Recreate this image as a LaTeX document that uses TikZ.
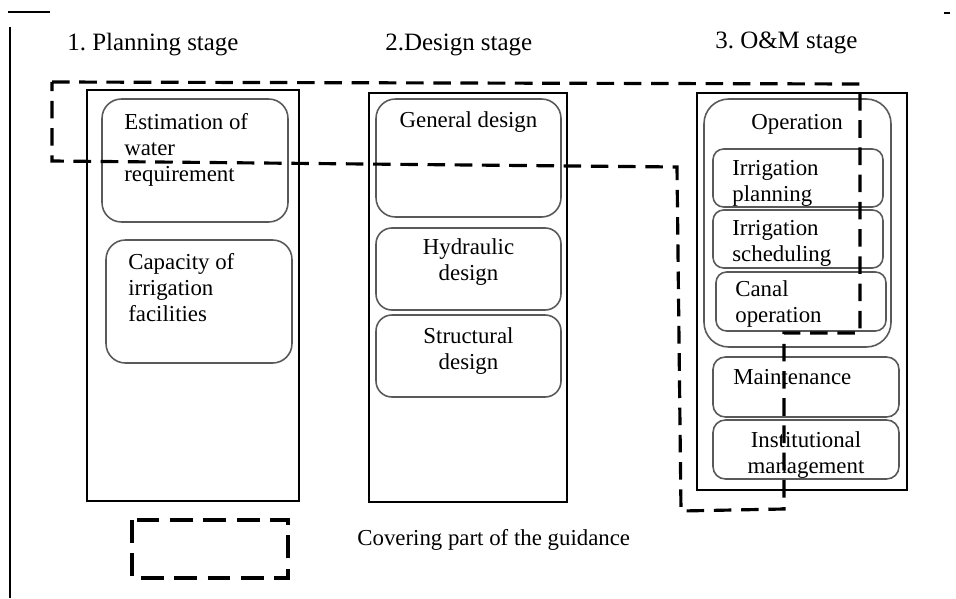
\documentclass[tikz,border=0pt]{standalone}
\usepackage{fontspec}
\setmainfont{Liberation Serif}
\usepackage{tikz}
\usetikzlibrary{positioning}
\tikzset{dd/.style={line width=1.8pt, dash pattern=on 10pt off 5.5pt}}
\frenchspacing

\begin{document}
\begin{tikzpicture}[
x=0.02cm, y=-0.02cm,
stage/.style={rectangle, draw=black, line width=0.7pt, inner sep=0pt},
task/.style={rectangle, rounded corners=7pt, draw=black!65, line width=0.9pt, inner sep=0pt},
lbl/.style={inner sep=0pt, font=\fontsize{13}{14.8}\selectfont},
title/.style={inner sep=0pt, font=\fontsize{14.2}{16}\selectfont, anchor=base west},
]
\useasboundingbox (0,0) rectangle (956,598);
% frame marks
\draw[line width=0.9pt] (8,12) -- (50,12);
\draw[line width=0.9pt] (10,27) -- (10,598);
\draw[line width=0.9pt] (944,13) -- (950,13);
% stage titles
\node[title] (t1) at (67,51) {1. Planning stage};
\node[title] (t2) at (385,51) {2.Design stage};
\node[title] (t3) at (715,49) {3. O\&M stage};
% stage boxes
\node[stage, minimum width=4.24cm, minimum height=8.22cm] (plan) at (193,295.5) {};
\node[stage, minimum width=3.96cm, minimum height=8.18cm] (design) at (468,297.5) {};
\node[stage, minimum width=4.2cm, minimum height=7.94cm] (om) at (802,291.5) {};
% planning
\node[task, rounded corners=11pt, minimum width=3.72cm, minimum height=2.46cm] (est) at (195,160.5) {};
\node[task, rounded corners=11pt, minimum width=3.72cm, minimum height=2.46cm] (cap) at (199,301.5) {};
\node[lbl, anchor=north west, align=left] (estL) at (124,113) {Estimation of\\water\\requirement};
\node[lbl, anchor=north west, align=left] (capL) at (128,253) {Capacity of\\irrigation\\facilities};
% design
\node[task, rounded corners=11pt, minimum width=3.7cm, minimum height=2.36cm] (gen) at (468.5,158) {};
\node[task, rounded corners=9pt, minimum width=3.7cm, minimum height=1.64cm] (hyd) at (468.5,269) {};
\node[task, rounded corners=9pt, minimum width=3.7cm, minimum height=1.64cm] (str) at (468.5,356) {};
\node[lbl, anchor=base] (genL) at (468.5,128) {General design};
\node[lbl, anchor=north, align=center] (hydL) at (468.5,238) {Hydraulic\\design};
\node[lbl, anchor=north, align=center] (strL) at (468.5,327) {Structural\\design};
% O&M
\node[task, rounded corners=14pt, minimum width=3.74cm, minimum height=4.96cm] (opgrp) at (797.5,223) {};
\node[task, rounded corners=6pt, minimum width=3.4cm, minimum height=1.16cm] (irplan) at (798,178) {};
\node[task, rounded corners=6pt, minimum width=3.4cm, minimum height=1.16cm] (irsched) at (798,239) {};
\node[task, rounded corners=6pt, minimum width=3.4cm, minimum height=1.18cm] (canal) at (801,301.5) {};
\node[task, rounded corners=7pt, minimum width=3.72cm, minimum height=1.2cm] (maint) at (806,387) {};
\node[task, rounded corners=7pt, minimum width=3.72cm, minimum height=1.18cm] (inst) at (806,449.5) {};
\node[lbl, anchor=base] (opL) at (797,130) {Operation};
\node[lbl, anchor=north west, align=left] (irplanL) at (732,160) {Irrigation\\planning};
\node[lbl, anchor=north west, align=left] (irschedL) at (732,220) {Irrigation\\scheduling};
\node[lbl, anchor=north west, align=left] (canalL) at (735,280) {Canal\\operation};
\node[lbl, anchor=base west] (maintL) at (733,384) {Maintenance};
\node[lbl, anchor=north, align=center] (instL) at (806,431) {Institutional\\management};
% covered part
\coordinate (c1) at (52,82);
\coordinate (c2) at (860,84);
\coordinate (c3) at (860,333);
\coordinate (c4) at (784,333);
\coordinate (c5) at (784,509);
\coordinate (c6) at (681,511);
\coordinate (c7) at (677,167);
\coordinate (c8) at (52,161);
\draw[dd] (c1) -- (c2) -- (c3) -- (c4) -- (c5) -- (c6) -- (c7) -- (c8) -- cycle;
% legend
\draw[dd, line width=2.4pt, dash pattern=on 13pt off 6pt] (132,520) rectangle (288,578);
\node[lbl, anchor=base west] (cover) at (357,545) {Covering part of the guidance};
\end{tikzpicture}
\end{document}
